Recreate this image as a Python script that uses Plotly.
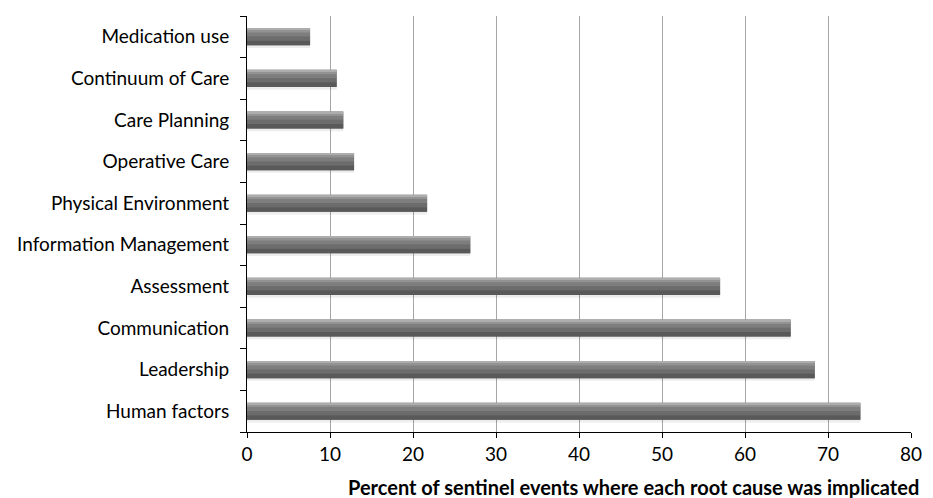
import plotly.graph_objects as go

categories = ["Human factors", "Leadership", "Communication", "Assessment",
              "Information Management", "Physical Environment", "Operative Care",
              "Care Planning", "Continuum of Care", "Medication use"]
values = [73.9, 68.4, 65.5, 57.0, 26.9, 21.7, 12.9, 11.6, 10.8, 7.6]
x_ticks = [0, 10, 20, 30, 40, 50, 60, 70, 80]
x_title = "Percent of sentinel events where each root cause was implicated"

FONT = "Lato"

fig = go.Figure()

# layered bands to imitate the cylindrical shading (offset, width, color)
layers = [
    (-0.27, 0.08, "rgba(0,0,0,0.07)"),
    (-0.205, 0.41, "#656565"),
    (-0.205, 0.11, "#595959"),
    (-0.095, 0.10, "#6c6c6c"),
    (0.005, 0.09, "#7e7e7e"),
    (0.095, 0.07, "#939393"),
    (0.165, 0.04, "#adadad"),
]
for off, w, col in layers:
    fig.add_trace(go.Bar(
        y=categories, x=values, orientation="h",
        offset=off, width=w,
        marker=dict(color=col, line=dict(width=0)),
        hoverinfo="skip", showlegend=False,
    ))

fig.update_layout(
    barmode="overlay",
    width=925, height=490,
    margin=dict(l=239, r=22, t=8, b=66),
    paper_bgcolor="white", plot_bgcolor="white",
    font=dict(family=FONT, size=19, color="#000000"),
    showlegend=False,
)
fig.update_xaxes(
    range=[0, 80], tickvals=x_ticks, ticktext=[str(t) for t in x_ticks],
    showgrid=True, gridcolor="#a6a6a6", gridwidth=1,
    showline=True, linecolor="#000000", linewidth=1,
    ticks="outside", ticklen=5, tickcolor="#000000",
    zeroline=False, fixedrange=True,
)
fig.update_yaxes(
    categoryorder="array", categoryarray=categories,
    showgrid=False,
    showline=True, linecolor="#000000", linewidth=1,
    ticks="outside", ticklen=6, tickcolor="#000000", tickson="boundaries",
    ticklabelstandoff=13, fixedrange=True,
)
fig.add_annotation(
    text="<b>" + x_title + "</b>", xref="paper", yref="paper",
    x=0.582, y=-0.132, xanchor="center", yanchor="middle",
    showarrow=False, font=dict(family=FONT, size=20, color="#000000"),
)

fig.write_html("out.html")
